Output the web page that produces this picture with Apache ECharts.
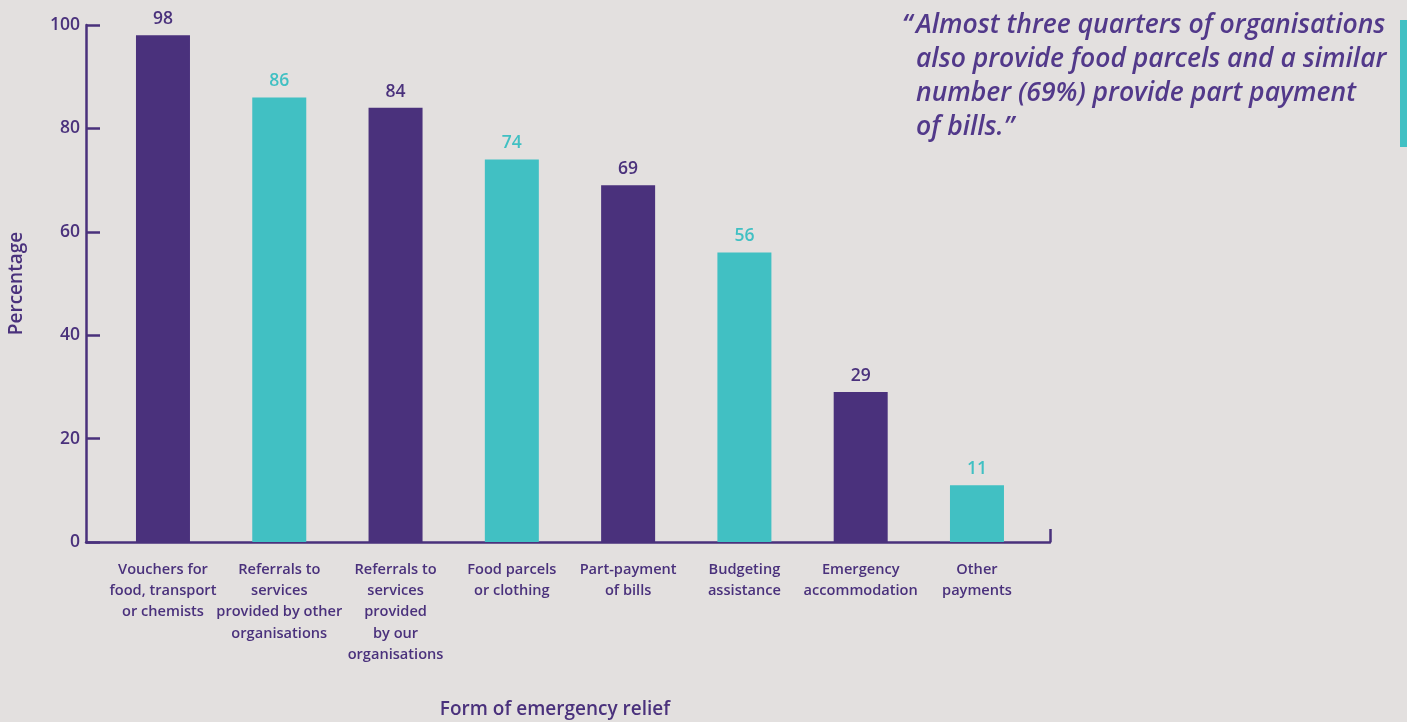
<!DOCTYPE html>
<html>
<head>
<meta charset="utf-8">
<script src="https://cdn.jsdelivr.net/npm/echarts@6/dist/echarts.min.js"></script>
<style>
  html, body { margin: 0; padding: 0; background: #e3e0df; }
  #chart { width: 1407px; height: 722px; }
</style>
</head>
<body>
<div id="chart"></div>
<script>
// Forms of emergency relief offered, share of organisations (%)
const categories = [
  'Vouchers for\nfood, transport\nor chemists',
  'Referrals to\nservices\nprovided by other\norganisations',
  'Referrals to\nservices\nprovided\nby our\norganisations',
  'Food parcels\nor clothing',
  'Part-payment\nof bills',
  'Budgeting\nassistance',
  'Emergency\naccommodation',
  'Other\npayments'
];
const values = [98, 86, 84, 74, 69, 56, 29, 11];
const yTicks = [0, 20, 40, 60, 80, 100];
const quoteLines = [
  'Almost three quarters of organisations',
  'also provide food parcels and a similar',
  'number (69%) provide part payment',
  'of bills.\u201D'
];

const PURPLE = '#4a317c';
const TEAL = '#41c0c3';
const QUOTE = '#52398a';
const FONT = '"Open Sans", "Noto Sans", sans-serif';

const chart = echarts.init(document.getElementById('chart'), null, { renderer: 'canvas' });

// x runs on a value scale so the axis frame can extend past the outer bars
const xMin = -0.662;
const xMax = 7.628;
const catIdx = categories.map((_, i) => i);

const barData = values.map((v, i) => ({
  value: [i, v],
  itemStyle: { color: i % 2 === 0 ? PURPLE : TEAL },
  label: { color: i % 2 === 0 ? PURPLE : TEAL }
}));

const quoteGraphics = quoteLines.map((t, i) => ({
  type: 'text',
  left: 916,
  top: 12 + i * 34,
  style: {
    text: t,
    fill: QUOTE,
    font: 'italic 600 26.5px ' + FONT
  }
}));

chart.setOption({
  backgroundColor: '#e3e0df',
  animation: false,
  grid: { left: 86, top: 25, width: 964, height: 517, outerBoundsMode: 'none', containLabel: false },
  xAxis: {
    type: 'value',
    min: xMin,
    max: xMax,
    name: 'Form of emergency relief',
    nameLocation: 'middle',
    nameGap: 158,
    nameTextStyle: { color: PURPLE, fontSize: 19, fontFamily: FONT, fontWeight: 600, padding: [0, 26, 0, 0] },
    splitLine: { show: false },
    axisLine: { show: true, onZero: false, lineStyle: { color: PURPLE, width: 2.5 } },
    axisTick: { show: true, inside: true, length: 13, customValues: [xMax], lineStyle: { color: PURPLE, width: 2.5 } },
    axisLabel: {
      customValues: catIdx,
      formatter: v => categories[Math.round(v)],
      hideOverlap: false,
      color: PURPLE,
      fontSize: 14.6,
      fontFamily: FONT,
      fontWeight: 600,
      lineHeight: 21.3,
      margin: 17,
      align: 'center',
      verticalAlign: 'top'
    }
  },
  yAxis: {
    type: 'value',
    min: 0,
    max: 100,
    interval: 20,
    name: 'Percentage',
    nameLocation: 'middle',
    nameGap: 60,
    nameRotate: 90,
    nameTextStyle: { color: PURPLE, fontSize: 19, fontFamily: FONT, fontWeight: 600 },
    splitLine: { show: false },
    axisLine: { show: true, onZero: false, lineStyle: { color: PURPLE, width: 2.5 } },
    axisTick: { show: true, inside: true, length: 14, lineStyle: { color: PURPLE, width: 2.5 } },
    axisLabel: {
      customValues: yTicks,
      color: PURPLE,
      fontSize: 17.5,
      fontFamily: FONT,
      fontWeight: 600,
      margin: 6
    }
  },
  series: [{
    type: 'bar',
    barWidth: 54,
    data: barData,
    label: {
      show: true,
      position: 'top',
      distance: 7,
      fontSize: 17.5,
      fontFamily: FONT,
      fontWeight: 600,
      formatter: p => p.value[1]
    }
  }],
  graphic: [
    {
      type: 'text',
      left: 902,
      top: 12,
      style: { text: '\u201C', fill: QUOTE, font: 'italic 600 26.5px ' + FONT }
    },
    ...quoteGraphics,
    {
      type: 'rect',
      right: 0,
      top: 20,
      shape: { width: 7, height: 127 },
      style: { fill: TEAL }
    }
  ]
});
</script>
</body>
</html>
